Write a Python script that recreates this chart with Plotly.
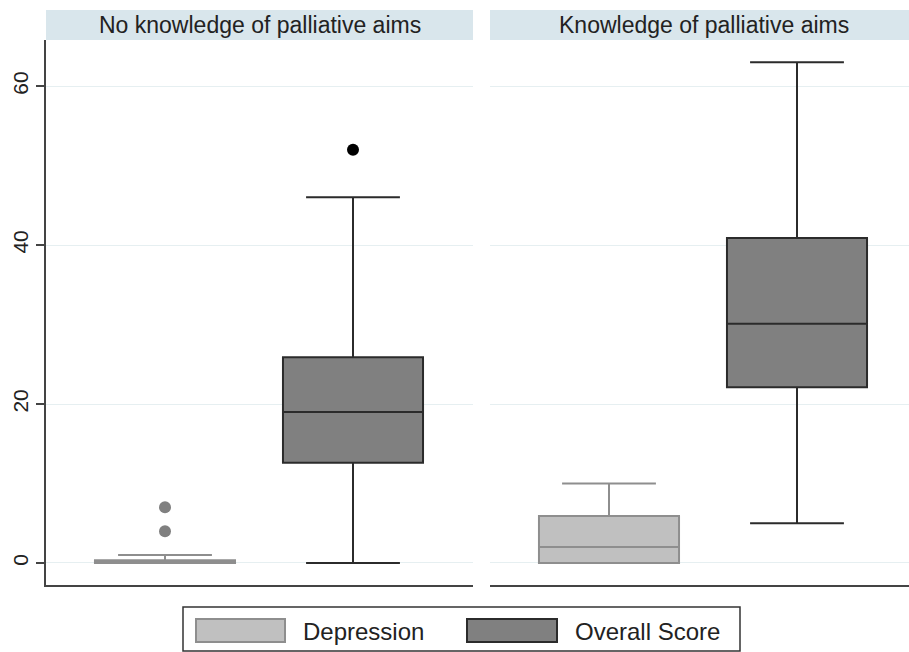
import plotly.graph_objects as go
from plotly.subplots import make_subplots

# ---- data ----
panels = ["No knowledge of palliative aims", "Knowledge of palliative aims"]
series = ["Depression", "Overall Score"]
positions = [1, 2]

# per panel: [Depression, Overall Score]
q1 = [[0, 12.6], [0, 22.1]]
median = [[0, 19.0], [2.0, 30.1]]
q3 = [[0.35, 25.9], [5.9, 40.9]]
lower_fence = [[0, 0], [0, 5]]
upper_fence = [[1, 46], [10, 63]]
outliers = [[[4, 7], [52]], [[], []]]

yticks = [0, 20, 40, 60]

fills = ["#c0c0c0", "#808080"]
lines = ["#8e8e8e", "#2b2b2b"]
dots = ["#808080", "#000000"]

W, H = 909, 652
ML, MR, MT, MB = 46, 0, 10, 67
pw, ph = W - ML - MR, H - MT - MB

def px(x):
    return (x - ML) / pw

def py(y):
    return (H - MB - y) / ph

fig = make_subplots(rows=1, cols=2, shared_yaxes=True, horizontal_spacing=0.02)

for p in range(2):
    for s in range(2):
        fig.add_trace(go.Box(
            x=[positions[s]], q1=[q1[p][s]], median=[median[p][s]], q3=[q3[p][s]],
            lowerfence=[lower_fence[p][s]], upperfence=[upper_fence[p][s]],
            width=0.745, whiskerwidth=0.67, fillcolor=fills[s],
            line=dict(color=lines[s], width=2), boxpoints=False,
            name=series[s], showlegend=False, hoverinfo="skip"),
            row=1, col=p + 1)
        if outliers[p][s]:
            fig.add_trace(go.Scatter(
                x=[positions[s]] * len(outliers[p][s]), y=outliers[p][s],
                mode="markers", marker=dict(color=dots[s], size=12),
                showlegend=False, hoverinfo="skip"),
                row=1, col=p + 1)

ytop = 545 / 575
d1 = [0, px(473)]
d2 = [px(490), 1]
upp = 1 / 188.0  # x units per pixel
x0 = 0.367
r1 = [x0, x0 + 427 * upp]
r2 = [x0, x0 + 419 * upp]
fig.update_layout(
    width=W, height=H, margin=dict(l=ML, r=MR, t=MT, b=MB),
    paper_bgcolor="white", plot_bgcolor="white",
    font=dict(family="Liberation Sans, Arial, sans-serif", color="#222222"),
    xaxis=dict(domain=d1, range=r1, showticklabels=False, ticks="",
               showgrid=False, zeroline=False, showline=True, linecolor="#444444", linewidth=2),
    xaxis2=dict(domain=d2, range=r2, showticklabels=False, ticks="",
                showgrid=False, zeroline=False, showline=True, linecolor="#444444", linewidth=2),
    yaxis=dict(domain=[0, ytop], range=[-2.77, 65.8], tickvals=yticks,
               ticktext=[str(v) for v in yticks], tickangle=-90,
               tickfont=dict(size=21, color="#222222"), ticks="outside", ticklen=8,
               tickcolor="#444444", tickwidth=1.5,
               showline=True, linecolor="#444444", linewidth=2,
               showgrid=True, gridcolor="#e6eff1", gridwidth=1, zeroline=False),
    yaxis2=dict(domain=[0, ytop], range=[-2.77, 65.8], tickvals=yticks, showticklabels=False,
                ticks="", showline=False, showgrid=True, gridcolor="#e6eff1",
                gridwidth=1, zeroline=False, matches="y"),
)

shapes = []
annotations = []
strip_centers = [px((46 + 473) / 2), px((490 + 917) / 2)]
for p, dom in enumerate([d1, d2]):
    shapes.append(dict(type="rect", xref="paper", yref="paper", x0=dom[0], x1=dom[1],
                       y0=ytop, y1=1, fillcolor="#d9e6ec", line=dict(width=0), layer="below"))
    annotations.append(dict(xref="paper", yref="paper", x=strip_centers[p],
                            y=(ytop + 1) / 2, text=panels[p], showarrow=False,
                            font=dict(size=23, color="#222222"), xanchor="center", yanchor="middle"))

# legend drawn manually
shapes.append(dict(type="rect", xref="paper", yref="paper", x0=px(183), x1=px(740),
                   y0=py(651), y1=py(607), line=dict(color="#333333", width=1.5), fillcolor="white"))
sw = [(196, 285, 301), (467, 557, 573)]
for s, (a, b, t) in enumerate(sw):
    shapes.append(dict(type="rect", xref="paper", yref="paper", x0=px(a), x1=px(b),
                       y0=py(642), y1=py(619), fillcolor=fills[s],
                       line=dict(color=lines[s], width=2)))
    annotations.append(dict(xref="paper", yref="paper", x=px(t), y=py(631), text=series[s],
                            showarrow=False, xanchor="left", yanchor="middle",
                            font=dict(size=24, color="#222222")))

fig.update_layout(shapes=shapes, annotations=annotations)
fig.write_html("out.html", config={"displayModeBar": False},
               post_script="document.body.style.margin='0';")
